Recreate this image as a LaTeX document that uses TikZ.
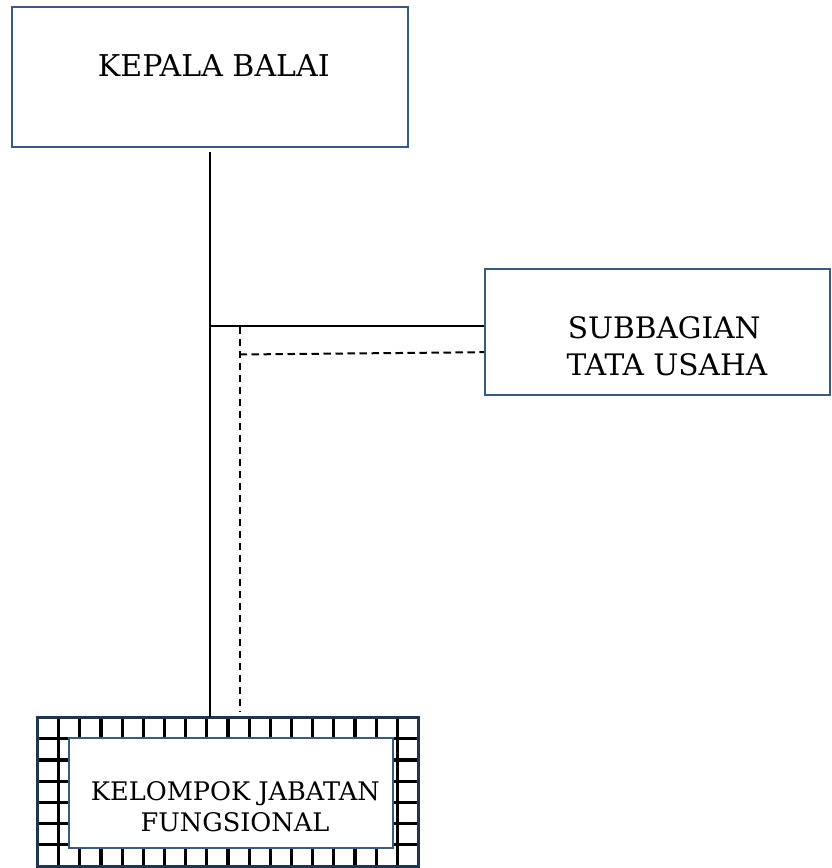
\documentclass[tikz,border=0pt]{standalone}
\usepackage{fontspec}
\setmainfont{DejaVu Serif}
\definecolor{boxblue}{HTML}{3A5A80}
\definecolor{darkbox}{HTML}{1F3550}
\begin{document}
\begin{tikzpicture}[x=1pt,y=-1pt,
  box/.style={draw=boxblue, line width=2pt, fill=white, inner sep=0pt},
  lbl/.style={anchor=base, inner sep=0pt, text=black},
  conn/.style={line width=2pt, black},
  dconn/.style={line width=2pt, black, dash pattern=on 7.5pt off 4.5pt},
  gridline/.style={line width=3.2pt, black}]
\useasboundingbox (0,0) rectangle (831,868);
\fill[white] (0,0) rectangle (831,868);
% top box
\node[box, minimum width=396pt, minimum height=140pt] (kb) at (210.3,76.6) {};
\node[lbl, font=\fontsize{30}{36}\selectfont] (kbt) at (213.8,76) {KEPALA BALAI};
% right box
\node[box, minimum width=345pt, minimum height=125.7pt] (sub) at (657.5,332.2) {};
\node[lbl, font=\fontsize{29.6}{34}\selectfont] (subt1) at (664.2,338.3) {SUBBAGIAN};
\node[lbl, font=\fontsize{29.6}{34}\selectfont] (subt2) at (667,375.7) {TATA USAHA};
% bottom box
\node[fill=white, minimum width=381pt, minimum height=148.5pt, inner sep=0pt] (kjf) at (228,791.75) {};
\begin{scope}
\clip (kjf.north west) rectangle (kjf.south east);
\foreach \i in {1,...,17} \draw[gridline] (37.5+\i*21.17,717.5) -- ++(0,148.5);
\foreach \j in {1,...,6} \draw[gridline] (37.5,717.5+\j*21.2) -- ++(381,0);
\end{scope}
\node[draw=boxblue, line width=2.2pt, fill=white, minimum width=323.4pt, minimum height=110pt, inner sep=0pt] (kjfin) at (231,793.3) {};
\draw[darkbox, line width=3.4pt] (kjf.north west) rectangle (kjf.south east);
\node[lbl, font=\fontsize{25.6}{30}\selectfont] (kjft1) at (235.3,800.7) {KELOMPOK JABATAN};
\node[lbl, font=\fontsize{25.6}{30}\selectfont] (kjft2) at (235,831.7) {FUNGSIONAL};
% connectors
\coordinate (j1) at (210.7,325.7);
\coordinate (d0) at (239.5,326.5);
\coordinate (d1) at (239.5,354.5);
\draw[conn] ([yshift=-4.5pt]kb.south) -- ([yshift=0.8pt]kb.south |- kjf.north);
\draw[conn] (kb.south |- j1) -- (j1 -| sub.west);
\draw[dconn] (d0) -- ([yshift=5.5pt]d0 |- kjf.north);
\draw[dconn] (d1) -- ([yshift=-20pt]sub.west);
\end{tikzpicture}
\end{document}
